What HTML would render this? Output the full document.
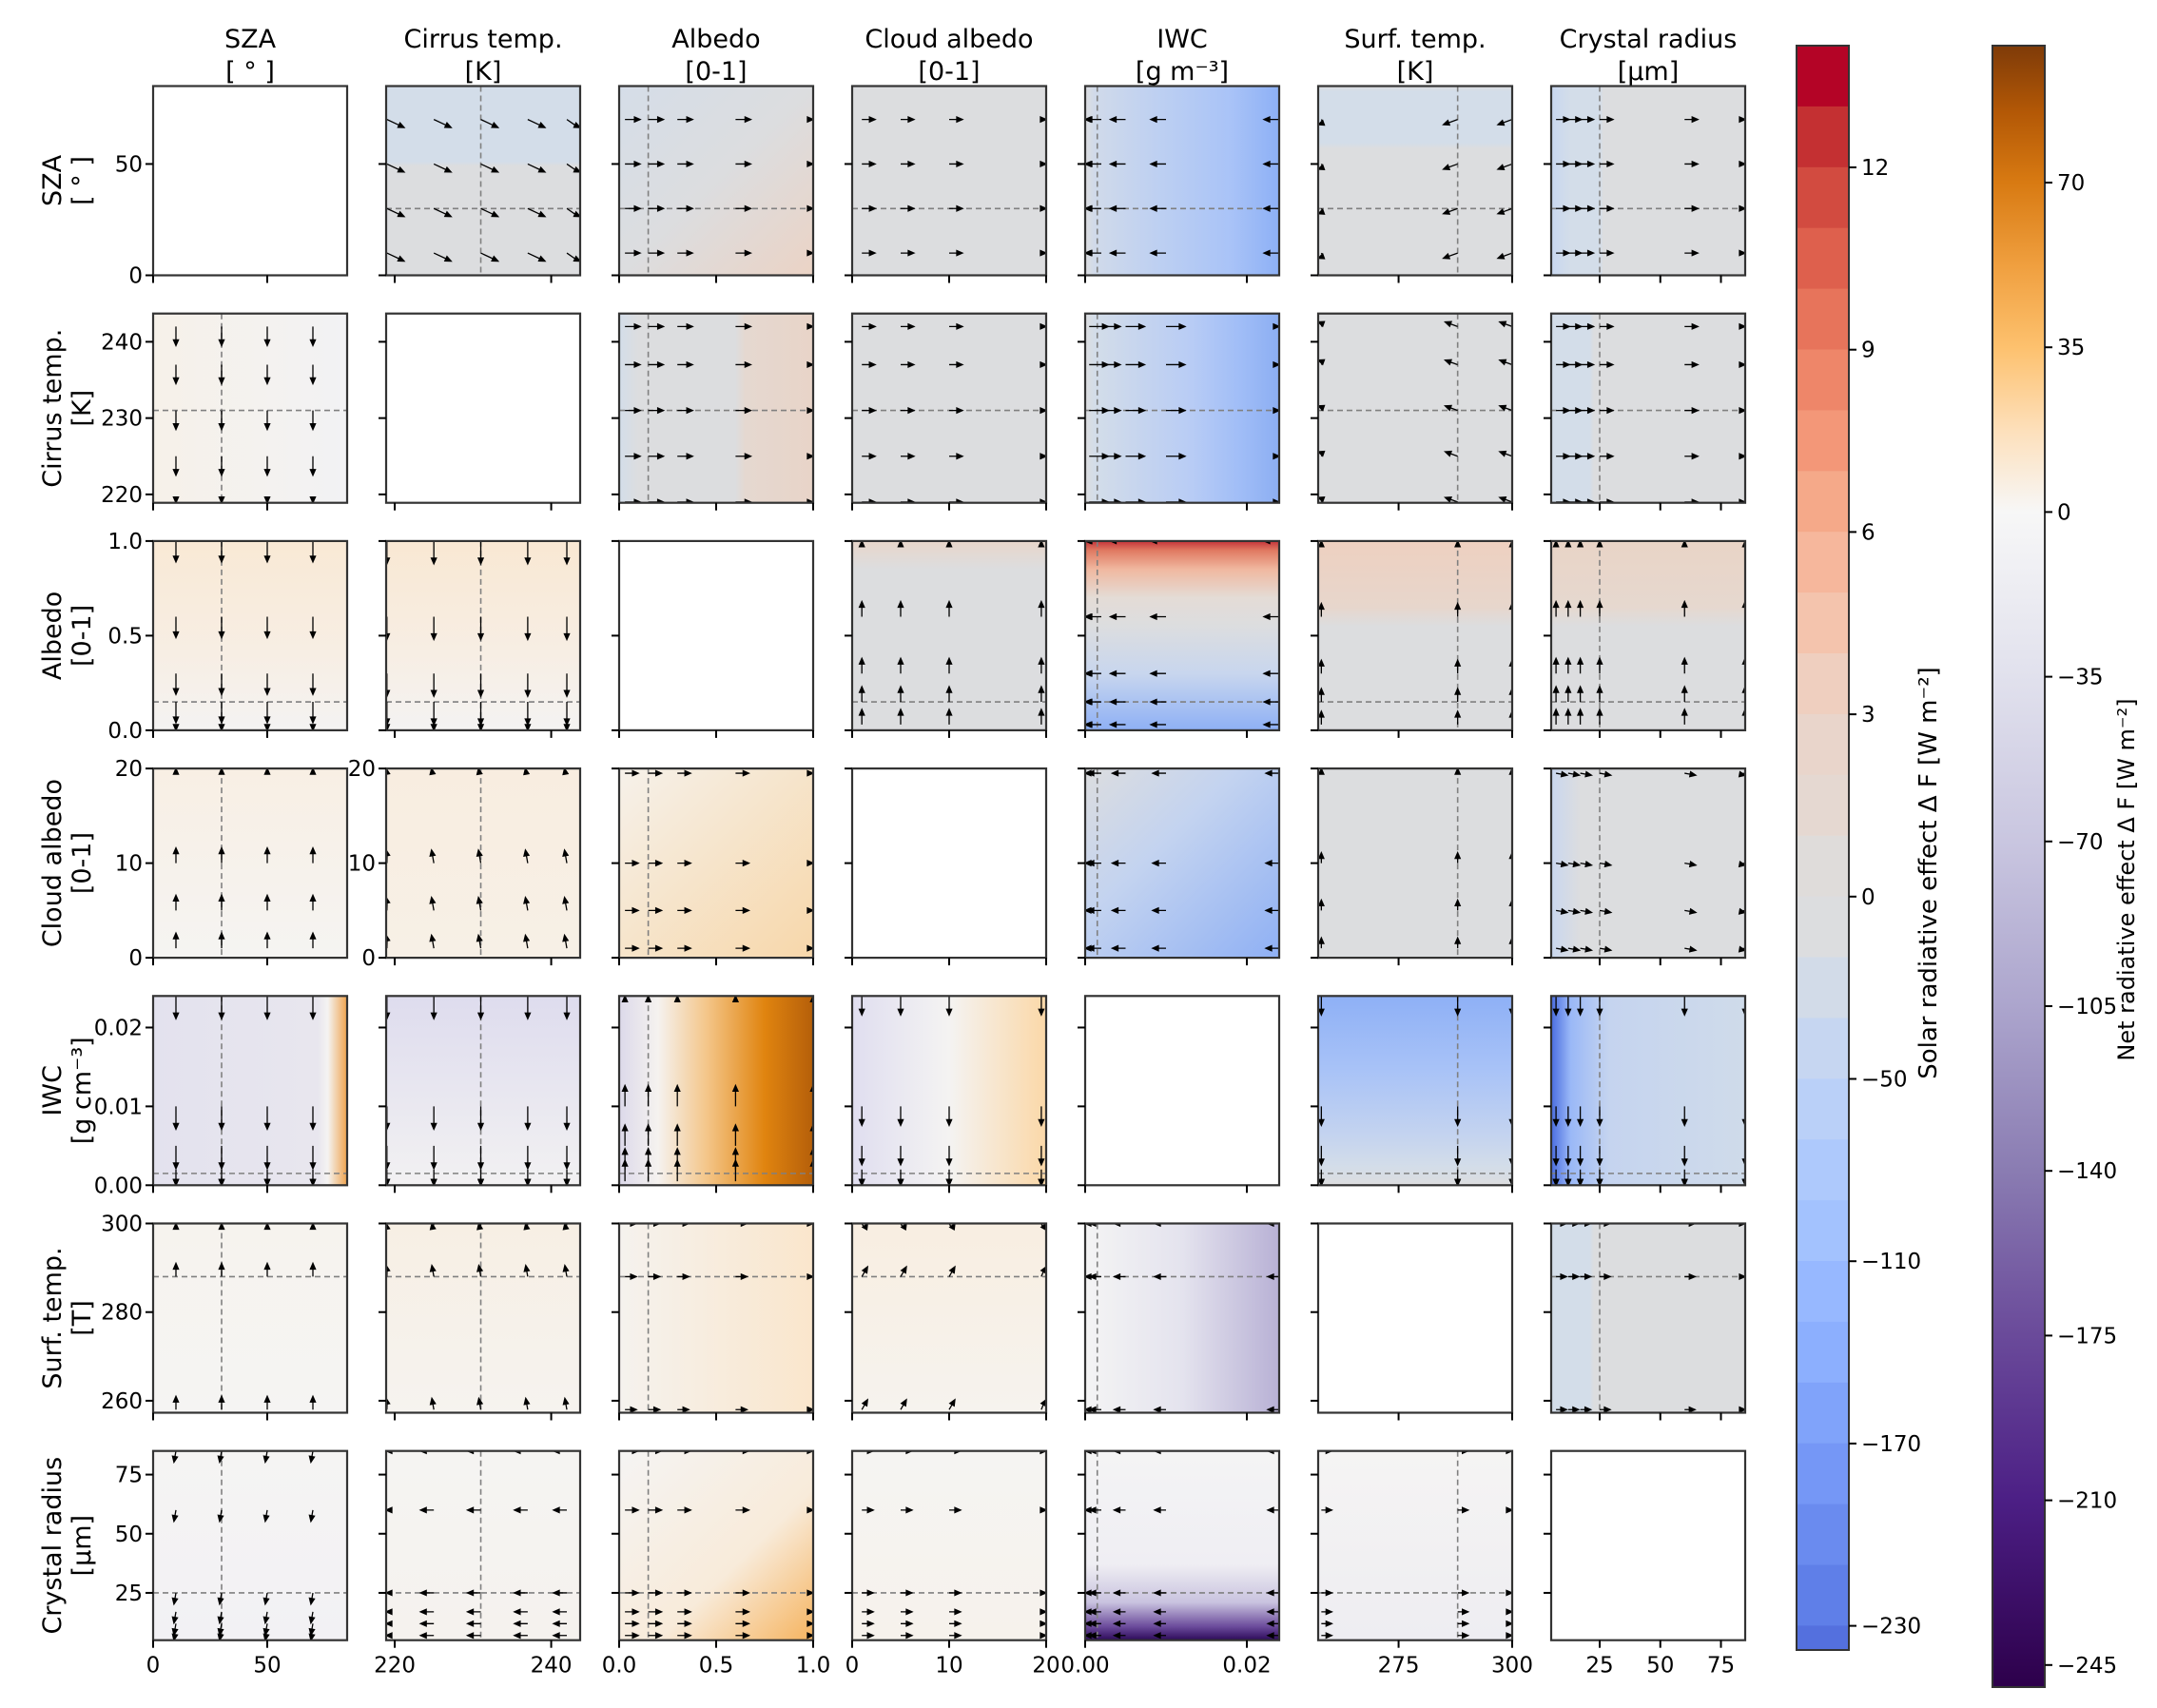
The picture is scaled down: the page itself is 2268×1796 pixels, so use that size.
<!DOCTYPE html>
<html><head><meta charset="utf-8"><style>
html,body{margin:0;padding:0;background:#fff;width:2268px;height:1796px;overflow:hidden;}
svg{display:block;overflow:hidden;font-family:"DejaVu Sans","Liberation Sans",sans-serif;}
</style></head><body>
<svg id="fig" width="2268" height="1796" viewBox="0 0 2268 1796" xmlns="http://www.w3.org/2000/svg">
<defs id="defs"></defs>
<g id="panels"></g>
<g id="cbars"></g>
</svg>
<script>
// ---- data ----
const varNames = ["SZA","Cirrus temp.","Albedo","Cloud albedo","IWC","Surf. temp.","Crystal radius"];
const colUnits = ["[ ° ]","[K]","[0-1]","[0-1]","[g m⁻³]","[K]","[μm]"];
const rowUnits = ["[ ° ]","[K]","[0-1]","[0-1]","[g cm⁻³]","[T]","[μm]"];
const varMin = [0,218.9,0,0,0,257.3,5];
const varMax = [85,243.7,1,20,0.024,300,85];
const refVals = [30,231,0.15,null,0.0015,288,25];
const xTickVals = [[0,50],[220,240],[0,0.5,1],[0,10,20],[0,0.02],[275,300],[25,50,75]];
const xTickLabels = [["0","50"],["220","240"],["0.0","0.5","1.0"],["0","10","20"],["0.00","0.02"],["275","300"],["25","50","75"]];
const yTickVals = [[0,50],[220,230,240],[0,0.5,1],[0,10,20],[0,0.01,0.02],[260,280,300],[25,50,75]];
const yTickLabels = [["0","50"],["220","230","240"],["0.0","0.5","1.0"],["0","10","20"],["0.00","0.01","0.02"],["260","280","300"],["25","50","75"]];
const samples = [[10,30,50,70],[219,225,231,237,242],[0.03,0.15,0.3,0.6,1.0],[1,5,10,19.5],[0.0005,0.002,0.005,0.01,0.024],[258,288,300],[7,12,17,25,60,85]];
const arrowAngle = [
 [null,25,0,0,180,160,0],
 [90,null,0,0,0,200,0],
 [90,90,null,270,180,270,270],
 [270,260,0,null,180,270,10],
 [90,90,270,90,null,90,90],
 [270,260,0,300,180,null,0],
 [100,180,0,0,180,0,null]];
const arrowLen = [
 [0,20,16,14,16,16,14],
 [20,0,16,14,20,14,14],
 [22,24,0,16,16,14,16],
 [16,14,14,0,14,11,12],
 [24,24,22,20,0,20,20],
 [14,12,12,12,12,0,11],
 [12,14,14,12,12,11,0]];
const solarTicks = [12,9,6,3,0,-50,-110,-170,-230];
const netTicks = [70,35,0,-35,-70,-105,-140,-175,-210,-245];
// ---- styles ----
const G="#dcdddf", B="#d3dde9";
const bg = {
"0-1":["v",[0,B],[0.4,B],[0.42,G],[1,G]],
"0-2":["d",[0,"#d5dde8"],[0.5,G],[1,"#ebd3c5"]],
"0-3":["v",[0,G],[1,G]],
"0-4":["h",[0,G],[0.05,"#d0daea"],[0.4,"#bccff2"],[0.75,"#a9c3f7"],[1,"#8db0f5"]],
"0-5":["v",[0,G],[0.03,B],[0.3,B],[0.33,G],[1,G]],
"0-6":["h",[0,"#c8d7f0"],[0.1,B],[0.25,B],[0.27,G],[1,G]],
"1-0":["h",[0,"#f6f1e9"],[1,"#f2f2f4"]],
"1-2":["h",[0,B],[0.1,G],[0.6,G],[0.65,"#e5d8d0"],[1,"#e8d4c8"]],
"1-3":["v",[0,G],[1,G]],
"1-4":["h",[0,G],[0.05,B],[0.3,"#c5d4ef"],[0.55,"#b8ccf5"],[0.8,"#a0bdf7"],[1,"#8caef2"]],
"1-5":["v",[0,G],[1,G]],
"1-6":["h",[0,B],[0.2,B],[0.22,G],[1,G]],
"2-0":["v",[0,"#f9e9d5"],[0.6,"#f7eee4"],[1,"#f4f3f2"]],
"2-1":["v",[0,"#f9e8d3"],[0.6,"#f7eee4"],[1,"#f4f3f2"]],
"2-3":["v",[0,"#e8d6ca"],[0.15,G],[1,G]],
"2-4":["v",[0,"#c4333a"],[0.05,"#e07a62"],[0.15,"#f0b8a0"],[0.3,"#e4dcd6"],[0.45,G],[0.7,"#c8d6ee"],[1,"#8eb0f5"]],
"2-5":["v",[0,"#eed0c0"],[0.35,"#e7d6cc"],[0.45,G],[1,G]],
"2-6":["v",[0,"#e9d4c6"],[0.35,"#e6d8cf"],[0.45,G],[1,G]],
"3-0":["v",[0,"#f8efe4"],[1,"#f5f4f2"]],
"3-1":["v",[0,"#f8ede0"],[1,"#f7f0e6"]],
"3-2":["d",[0,"#f6f1ea"],[1,"#f7d7aa"]],
"3-4":["d",[0,G],[0.4,"#c3d3f0"],[1,"#8fb0f4"]],
"3-5":["v",[0,G],[1,G]],
"3-6":["h",[0,"#c9d7ef"],[0.15,G],[1,G]],
"4-0":["h",[0,"#e3e2ee"],[0.85,"#e8e6ee"],[0.9,"#f4f3f2"],[1,"#efa34e"]],
"4-1":["v",[0,"#dedcee"],[1,"#f2f1f2"]],
"4-2":["h",[0,"#dcd9ea"],[0.2,"#f5f2ef"],[0.45,"#f4c68a"],[0.75,"#e0840f"],[1,"#b55f0a"]],
"4-3":["h",[0,"#e0def0"],[0.5,"#f4f3f2"],[1,"#fbd8a8"]],
"4-5":["v",[0,"#8eb0f6"],[0.4,"#a9c3f7"],[0.75,"#c5d4ef"],[0.9,B],[1,G]],
"4-6":["h",[0,"#4a6de0"],[0.1,"#9ab8f7"],[0.3,"#c5d4ef"],[1,"#cfdbea"]],
"5-0":["v",[0,"#f6f3ee"],[1,"#f5f4f3"]],
"5-1":["v",[0,"#f7efe4"],[1,"#f6f3ef"]],
"5-2":["h",[0,"#f5f2ee"],[1,"#fae6cc"]],
"5-3":["v",[0,"#f8eee1"],[1,"#f6f3ee"]],
"5-4":["h",[0,"#f4f4f4"],[0.5,"#e4e3ee"],[1,"#b8b1d5"]],
"5-6":["h",[0,B],[0.2,B],[0.22,G],[1,G]],
"6-0":["v",[0,"#f5f4f3"],[1,"#f2f1f4"]],
"6-1":["v",[0,"#f5f4f2"],[1,"#f5f2ee"]],
"6-2":["d",[0,"#f5f4f3"],[0.6,"#f8ebda"],[1,"#f6b460"]],
"6-3":["v",[0,"#f5f4f2"],[1,"#f6f2ec"]],
"6-4":["v",[0,"#f4f4f4"],[0.6,"#efeef3"],[0.8,"#c9c3df"],[0.93,"#6a4a9a"],[1,"#2d0a5a"]],
"6-5":["v",[0,"#f5f4f3"],[1,"#eeedf2"]]
};
const solarBinColors = ["#b40426","#c43032","#d24b40","#de604d","#e7745b","#ee8669","#f39778","#f5a989","#f6b79c","#f4c4ad","#efcfbf","#e9d5cb","#e5d8d1","#dfdcda",
 "#dcdddf","#d2dbe8","#c6d6f1","#bad0f8","#aec9fc","#a3c2fe","#97b8ff","#8caffe","#80a3fa","#7597f6","#6a8bef","#5f7fe8","#5470de","#4961d2","#3f55c8"];
const NS="http://www.w3.org/2000/svg";
function mk(tag,attrs,parent){const e=document.createElementNS(NS,tag);for(const k in attrs)e.setAttribute(k,attrs[k]);if(parent)parent.appendChild(e);return e;}
const defs=document.getElementById('defs'), panels=document.getElementById('panels'), cbars=document.getElementById('cbars');
const L0=161, DX=245, W=204, T0=90.5, DY=239.2, H=199;
function xPos(c,v){return L0+DX*c+(v-varMin[c])/(varMax[c]-varMin[c])*W;}
function yPos(r,v){return T0+DY*r+H-(v-varMin[r])/(varMax[r]-varMin[r])*H;}
const FS=23;
for(let r=0;r<7;r++){for(let c=0;c<7;c++){
  const x0=L0+DX*c, y0=T0+DY*r;
  const g=mk('g',{},panels);
  
  
  const key=r+'-'+c;
  let fill="#ffffff";
  if(bg[key]){
    const s=bg[key];const id='gr'+r+c;
    const dir=s[0]==='h'?{x1:0,y1:0,x2:1,y2:0}:s[0]==='v'?{x1:0,y1:0,x2:0,y2:1}:{x1:0,y1:0,x2:1,y2:1};
    const lg=mk('linearGradient',Object.assign({id:id},dir),defs);
    for(let i=1;i<s.length;i++)mk('stop',{offset:s[i][0],'stop-color':s[i][1]},lg);
    fill='url(#'+id+')';
  }
  const bgRect=mk('rect',{x:x0,y:y0,width:W,height:H,fill:fill},g);
  
  
  if(r!==c){
    if(refVals[c]!==null){const l=mk('line',{x1:xPos(c,refVals[c]),x2:xPos(c,refVals[c]),y1:y0,y2:y0+H,stroke:'#808080','stroke-width':1.6,'stroke-dasharray':'6,4'},g);
      }
    if(refVals[r]!==null){const l=mk('line',{x1:x0,x2:x0+W,y1:yPos(r,refVals[r]),y2:yPos(r,refVals[r]),stroke:'#808080','stroke-width':1.6,'stroke-dasharray':'6,4'},g);
      }
    const ang=arrowAngle[r][c]*Math.PI/180, len=arrowLen[r][c];
    const cg=mk('g',{'clip-path':'url(#cp'+r+c+')'},g);
    const cp=mk('clipPath',{id:'cp'+r+c},defs);mk('rect',{x:x0,y:y0,width:W,height:H},cp);
    for(const sx of samples[c]){for(const sy of samples[r]){
      const px=xPos(c,sx), py=yPos(r,sy);
      const hx=Math.cos(ang), hy=Math.sin(ang);
      let ex=px+hx*len, ey=py+hy*len;
      ex=Math.min(Math.max(ex,x0),x0+W); ey=Math.min(Math.max(ey,y0),y0+H);
      const bx=ex-hx*6, by=ey-hy*6;
      const a=mk('path',{d:`M${px},${py}L${bx},${by}M${ex},${ey}L${bx-hy*2.6},${by+hx*2.6}L${bx+hy*2.6},${by-hx*2.6}Z`,stroke:'#000','stroke-width':1.3,fill:'#000'},cg);
      
      
    }}
  }
  const fr=mk('rect',{x:x0,y:y0,width:W,height:H,fill:'none',stroke:'#333','stroke-width':2.2},g);
  
  xTickVals[c].forEach((v,i)=>{const xx=xPos(c,v);mk('line',{x1:xx,x2:xx,y1:y0+H,y2:y0+H+8,stroke:'#000','stroke-width':2},g);
    if(r===6){const t=mk('text',{x:xx,y:y0+H+34,'font-size':FS,'text-anchor':'middle',fill:'#000'},g);t.textContent=xTickLabels[c][i];
      }});
  yTickVals[r].forEach((v,i)=>{const yy=yPos(r,v);mk('line',{x1:x0-8,x2:x0,y1:yy,y2:yy,stroke:'#000','stroke-width':2},g);
    if(c===0||(r===3&&c===1)){const t=mk('text',{x:x0-11,y:yy+8,'font-size':FS,'text-anchor':'end',fill:'#000'},g);t.textContent=yTickLabels[r][i];
      }});
}}
for(let c=0;c<7;c++){const cx=L0+DX*c+W/2;
  const t1=mk('text',{x:cx,y:50,'font-size':27,'text-anchor':'middle'},panels);t1.textContent=varNames[c];
  
  const t2=mk('text',{x:cx,y:84,'font-size':27,'text-anchor':'middle'},panels);t2.textContent=colUnits[c];
  }
for(let r=0;r<7;r++){const cy=T0+DY*r+H/2;
  const t=mk('text',{transform:`translate(64,${cy}) rotate(-90)`,'font-size':27,'text-anchor':'middle'},panels);t.textContent=varNames[r];
  
  const t2=mk('text',{transform:`translate(95,${cy}) rotate(-90)`,'font-size':27,'text-anchor':'middle'},panels);t2.textContent=rowUnits[r];
  }
// solar colorbar
const sx0=1889, sw=55, sTop=48, sBot=1735, binH=63.9;
const sg=mk('g',{},cbars);
const scp=mk('clipPath',{id:'scp'},defs);mk('rect',{x:sx0,y:sTop,width:sw,height:sBot-sTop},scp);
const sbins=mk('g',{'clip-path':'url(#scp)'},sg);
solarBinColors.forEach((col,i)=>{const top=sTop+i*binH;const h=Math.max(0,Math.min(binH+0.6,sBot-top));
  const b=mk('rect',{x:sx0,y:top,width:sw,height:h,fill:col},sbins);
  });
mk('rect',{x:sx0,y:sTop,width:sw,height:sBot-sTop,fill:'none',stroke:'#333','stroke-width':2},sg);
function solarY(i){return 176+i*191.7;}
solarTicks.forEach((v,i)=>{const y=solarY(i);mk('line',{x1:sx0+sw,x2:sx0+sw+8,y1:y,y2:y,stroke:'#000','stroke-width':2},sg);
  const t=mk('text',{x:sx0+sw+13,y:y+8,'font-size':FS},sg);t.textContent=v<0?'−'+(-v):String(v);
  });
const sl=mk('text',{transform:'translate(2036,918) rotate(-90)','font-size':26,'text-anchor':'middle'},sg);
sl.textContent='Solar radiative effect Δ F [W m⁻²]';

// net colorbar
const nx0=2095, nw=55, nTop=48, nBot=1774;
function netY(v){return 192+(70-v)/35*173.2;}
const ng=mk('g',{},cbars);
const nlg=mk('linearGradient',{id:'netg',x1:0,y1:0,x2:0,y2:1},defs);
const netStops=[[99,"#7f3b08"],[85,"#b35806"],[70,"#d87a12"],[52,"#f0a040"],[35,"#fdc16e"],[17,"#fde0bc"],[0,"#f7f7f7"],[-35,"#e1e1ed"],[-70,"#c9c6e0"],[-105,"#aca5cd"],[-140,"#8a7cb2"],[-175,"#6a4a9a"],[-210,"#4c1f85"],[-250,"#2d004b"]];
netStops.forEach(s=>mk('stop',{offset:((netY(s[0])-nTop)/(nBot-nTop)).toFixed(4),'stop-color':s[1]},nlg));
mk('rect',{x:nx0,y:nTop,width:nw,height:nBot-nTop,fill:'url(#netg)',stroke:'#333','stroke-width':2},ng);
netTicks.forEach(v=>{const y=netY(v);mk('line',{x1:nx0+nw,x2:nx0+nw+8,y1:y,y2:y,stroke:'#000','stroke-width':2},ng);
  const t=mk('text',{x:nx0+nw+13,y:y+8,'font-size':FS},ng);t.textContent=v<0?'−'+(-v):String(v);
  });
const nl=mk('text',{transform:'translate(2244,925) rotate(-90)','font-size':24,'text-anchor':'middle'},ng);
nl.textContent='Net radiative effect Δ F [W m⁻²]';

</script>
</body></html>
